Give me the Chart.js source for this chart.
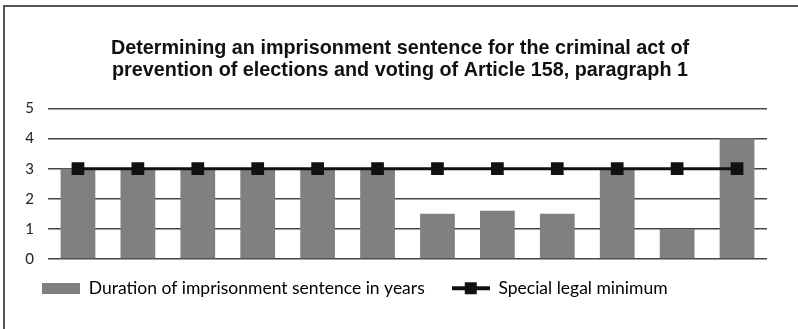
<!DOCTYPE html>
<html>
<head>
<meta charset="utf-8">
<script src="https://cdn.jsdelivr.net/npm/chart.js@4"></script>
<style>
  body { margin: 0; background: #fff; }
  #frame { position: absolute; left: 3px; top: 5px; width: 820px; height: 340px;
           border-left: 2px solid #555; border-top: 2px solid #555; }
  #wrap { position: absolute; left: 0; top: 0; width: 798px; height: 329px; }
</style>
</head>
<body>
<div id="frame"></div>
<div id="wrap"><canvas id="chart" width="798" height="329"></canvas></div>
<script>
// one bar per case, line = legal minimum
const cases = ['1', '2', '3', '4', '5', '6', '7', '8', '9', '10', '11', '12'];
const sentenceYears = [3, 3, 3, 3, 3, 3, 1.5, 1.6, 1.5, 3, 1, 4];
const legalMinimum = [3, 3, 3, 3, 3, 3, 3, 3, 3, 3, 3, 3];
const yTicks = [0, 1, 2, 3, 4, 5];

const barColor = '#808080';
const lineColor = '#111111';

// legend icons
function barIcon() {
    const c = document.createElement('canvas');
    c.width = 38; c.height = 11;
    const g = c.getContext('2d');
    g.fillStyle = barColor;
    g.fillRect(0, 0, 38, 11);
    return c;
}
function lineIcon() {
    const c = document.createElement('canvas');
    c.width = 38; c.height = 14;
    const g = c.getContext('2d');
    g.fillStyle = lineColor;
    g.fillRect(0, 5, 38, 4);
    g.fillRect(13, 1, 12, 12);
    return c;
}

// nudge title and legend to where the original has them
const nudge = {
    id: 'nudge',
    afterLayout(chart) {
        chart.titleBlock.left += 9;
        chart.titleBlock.right += 9;
        chart.legend.top -= 13;
        chart.legend.bottom -= 13;
    }
};

const chart = new Chart(document.getElementById('chart'), {
    type: 'bar',
    data: {
        labels: cases,
        datasets: [
            {
                type: 'line',
                label: 'Special legal minimum',
                data: legalMinimum,
                borderColor: lineColor,
                backgroundColor: lineColor,
                borderWidth: 3,
                pointStyle: 'rect',
                pointRadius: 9,
                pointBorderWidth: 0,
                order: 0
            },
            {
                type: 'bar',
                label: 'Duration of imprisonment sentence in years',
                data: sentenceYears,
                backgroundColor: barColor,
                barPercentage: 0.58,
                categoryPercentage: 1,
                order: 1
            }
        ]
    },
    plugins: [nudge],
    options: {
        responsive: false,
        animation: false,
        layout: { padding: { left: 15, right: 31, top: 0, bottom: 9 } },
        plugins: {
            tooltip: { enabled: false },
            title: {
                display: true,
                text: ['Determining an imprisonment sentence for the criminal act of',
                       'prevention of elections and voting of Article 158, paragraph 1'],
                color: '#111',
                font: { family: 'Liberation Sans', size: 19.8, weight: 'bold', lineHeight: 1.11 },
                padding: { top: 38, bottom: 26.5 }
            },
            legend: {
                position: 'bottom',
                align: 'start',
                labels: {
                    usePointStyle: true,
                    pointStyleWidth: 38,
                    color: '#1a1a1a',
                    font: { family: 'Lato', size: 17.5 },
                    padding: 27,
                    generateLabels: function () {
                        return [
                            { text: 'Duration of imprisonment sentence in years', pointStyle: barIcon(), fillStyle: barColor, strokeStyle: barColor, lineWidth: 0, datasetIndex: 1 },
                            { text: 'Special legal minimum', pointStyle: lineIcon(), fillStyle: lineColor, strokeStyle: lineColor, lineWidth: 0, datasetIndex: 0 }
                        ];
                    }
                }
            }
        },
        scales: {
            x: {
                grid: { display: false },
                border: { display: false },
                ticks: { display: false },
                afterFit: function (scale) { scale.height = 6.5; }
            },
            y: {
                min: 0,
                max: 5,
                afterBuildTicks: function (scale) {
                    scale.ticks = yTicks.map(v => ({ value: v }));
                },
                afterFit: function (scale) { scale.width = 33; },
                grid: { color: '#444', lineWidth: 1.5, drawTicks: false },
                border: { display: false },
                ticks: {
                    color: '#222',
                    padding: 14,
                    font: { family: 'Lato', size: 15 }
                }
            }
        }
    }
});
</script>
</body>
</html>
